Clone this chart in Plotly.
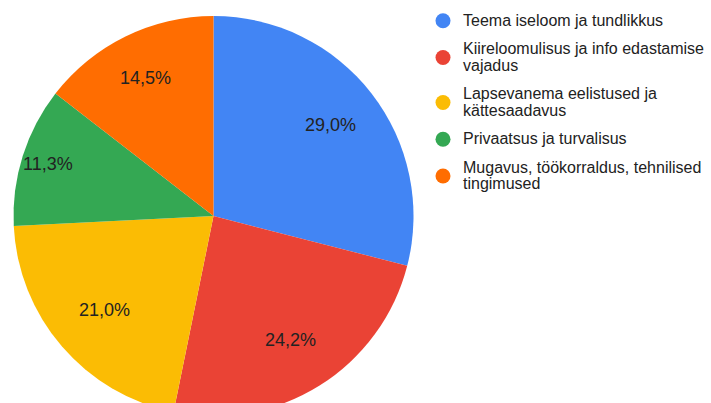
import math
import plotly.graph_objects as go

labels = [
    "Teema iseloom ja tundlikkus",
    "Kiireloomulisus ja info edastamise<br>vajadus",
    "Lapsevanema eelistused ja<br>kättesaadavus",
    "Privaatsus ja turvalisus",
    "Mugavus, töökorraldus, tehnilised<br>tingimused",
]
values = [29.0, 24.2, 21.0, 11.3, 14.5]
colors = ["#4285F4", "#EA4335", "#FBBC04", "#34A853", "#FF6D01"]
label_radius = [0.74, 0.73, 0.72, 0.87, 0.77]  # style: label distance as fraction of radius

W, H = 711, 430
cx, cy, r = 213.5, 216, 200

fig = go.Figure()
fig.add_trace(go.Pie(
    labels=labels, values=values, sort=False, direction="clockwise", rotation=0,
    marker=dict(colors=colors, line=dict(width=0)),
    textinfo="none",
    showlegend=False, hoverinfo="label+percent",
    domain=dict(x=[(cx - r) / W, (cx + r) / W], y=[1 - (cy + r) / H, 1 - (cy - r) / H]),
))

total = sum(values)
cum = 0.0
for v, f in zip(values, label_radius):
    mid = (cum + v / 2) / total * 2 * math.pi
    cum += v
    px = cx + r * f * math.sin(mid)
    py = cy - r * f * math.cos(mid)
    pct = f"{v / total * 100:.1f}".replace(".", ",") + "%"
    fig.add_annotation(
        x=px / W, y=1 - py / H, xref="paper", yref="paper",
        text=pct, showarrow=False, xanchor="center", yanchor="middle",
        font=dict(family="Liberation Sans, Arial", size=18, color="#222222"),
    )

for lab, col in zip(labels, colors):
    fig.add_trace(go.Scatter(
        x=[None], y=[None], mode="markers",
        name=f'<span style="font-size:16px">{lab}</span>',
        marker=dict(symbol="circle", size=15, color=col),
        showlegend=True, legendgroup=lab,
    ))

fig.update_layout(
    width=W, height=H,
    margin=dict(l=0, r=0, t=0, b=0, autoexpand=False),
    paper_bgcolor="white", plot_bgcolor="white",
    xaxis=dict(visible=False), yaxis=dict(visible=False),
    legend=dict(
        x=423 / W, xanchor="left", y=1 - 6 / H, yanchor="top",
        font=dict(family="Liberation Sans, Arial", size=12.7, color="#222222"),
        tracegroupgap=9, itemsizing="trace",
        bgcolor="rgba(0,0,0,0)",
    ),
)

fig.write_html("out.html", post_script="document.documentElement.style.overflow='hidden';document.body.style.overflow='hidden';document.body.style.margin='0';")
